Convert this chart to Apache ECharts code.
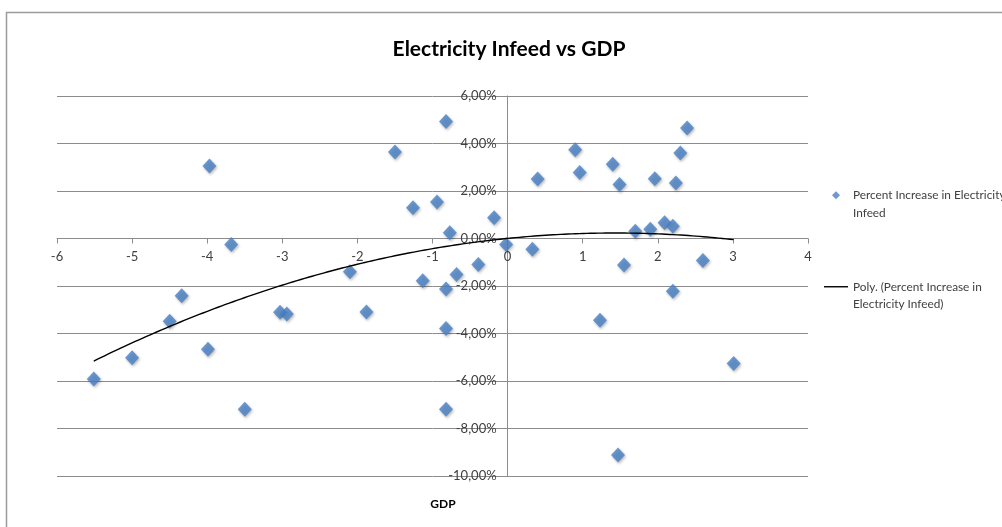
<!DOCTYPE html>
<html>
<head>
<meta charset="utf-8">
<script src="https://cdn.jsdelivr.net/npm/echarts@6/dist/echarts.min.js"></script>
<style>
  html, body { margin: 0; padding: 0; background: #fff; }
  #chart { width: 1002px; height: 527px; }
</style>
</head>
<body>
<div id="chart"></div>
<script>
// GDP growth (x) against percent increase in electricity infeed (y, in %)
const gdp = [
  -3.97, -3.68, -1.50, -0.82, -1.26, -0.94, -0.18, -0.77, -0.02,
  -2.10, -1.13, -0.68, -0.39, -0.82, -0.82, -0.82, -1.88, -3.03,
  -2.94, -4.34, -4.50, -3.99, -5.00, -5.51, -3.50,
  0.33, 0.40, 0.90, 0.96, 1.40, 1.49, 1.55, 1.70, 1.90, 1.96,
  2.09, 2.20, 2.24, 2.30, 2.39, 2.60, 2.20, 1.23, 3.01, 1.47
];
const infeed = [
  3.05, -0.25, 3.64, 4.93, 1.29, 1.54, 0.87, 0.24, -0.25,
  -1.40, -1.78, -1.52, -1.09, -2.13, -3.79, -7.19, -3.09, -3.11,
  -3.18, -2.41, -3.48, -4.66, -5.02, -5.92, -7.19,
  -0.45, 2.51, 3.74, 2.78, 3.13, 2.27, -1.12, 0.31, 0.39, 2.52,
  0.66, 0.52, 2.34, 3.60, 4.65, -0.93, -2.22, -3.44, -5.26, -9.12
];

const seriesName = 'Percent Increase in Electricity Infeed';
const trendName = 'Poly. (Percent Increase in Electricity Infeed)';
const legendLines = {
  [seriesName]: 'Percent Increase in Electricity\nInfeed',
  [trendName]: 'Poly. (Percent Increase in\nElectricity Infeed)'
};

const xRange = { min: -6, max: 4, step: 1 };
const yRange = { min: -10, max: 6, step: 2 };

const FONT = "Lato, 'Open Sans', sans-serif";

// plot box inside the 1002x527 canvas
const plot = { left: 57, right: 194, top: 96, bottom: 51 };
const plotW = 1002 - plot.left - plot.right;
const plotH = 527 - plot.top - plot.bottom;
// the axes cross at (0, 0): shift each axis from its edge onto the zero line
const xAxisShift = -plotH * (0 - yRange.min) / (yRange.max - yRange.min);
const yAxisShift = -plotW * (0 - xRange.min) / (xRange.max - xRange.min);

// second-order least-squares trend line through the points
function polyFit2(xs, ys) {
  const s = [0, 0, 0, 0, 0];
  const t = [0, 0, 0];
  for (let i = 0; i < xs.length; i++) {
    const x = xs[i], y = ys[i];
    let p = 1;
    for (let k = 0; k < 5; k++) { s[k] += p; p *= x; }
    t[0] += y; t[1] += y * x; t[2] += y * x * x;
  }
  const A = [[s[0], s[1], s[2]], [s[1], s[2], s[3]], [s[2], s[3], s[4]]];
  const det3 = m =>
    m[0][0] * (m[1][1] * m[2][2] - m[1][2] * m[2][1]) -
    m[0][1] * (m[1][0] * m[2][2] - m[1][2] * m[2][0]) +
    m[0][2] * (m[1][0] * m[2][1] - m[1][1] * m[2][0]);
  const D = det3(A);
  return [0, 1, 2].map(c => {
    const M = A.map((row, r) => row.map((v, j) => (j === c ? t[r] : v)));
    return det3(M) / D;
  }); // a + b x + c x^2
}

const [ca, cb, cc] = polyFit2(gdp, infeed);
const xLo = Math.min(...gdp), xHi = Math.max(...gdp);
const trend = [];
const nSteps = 170;
for (let i = 0; i <= nSteps; i++) {
  const x = xLo + (xHi - xLo) * i / nSteps;
  trend.push([x, ca + cb * x + cc * x * x]);
}

const points = gdp.map((x, i) => [x, infeed[i]]);

// legend icons: corner points keep the full icon box so the shapes are not stretched
const diamondIcon = 'path://M0,0L0,0M24,9L24,9M12,0.5L16,4.5L12,8.5L8,4.5Z';
const lineIcon = 'path://M0,0L0,0M24,9L24,9M0,3.8L24,3.8L24,5.2L0,5.2Z';

const chart = echarts.init(document.getElementById('chart'), null, { renderer: 'canvas' });
chart.setOption({
  animation: false,
  backgroundColor: '#fff',
  title: {
    text: 'Electricity Infeed vs GDP',
    left: 504,
    top: 34,
    textAlign: 'center',
    textStyle: { fontFamily: FONT, fontSize: 21, fontWeight: 'bold', color: '#000' }
  },
  grid: { left: plot.left, right: plot.right, top: plot.top, bottom: plot.bottom, containLabel: false },
  xAxis: {
    type: 'value',
    position: 'bottom',
    offset: xAxisShift,
    min: xRange.min, max: xRange.max, interval: xRange.step,
    axisLine: { onZero: false, lineStyle: { color: '#8c8c8c', width: 1 } },
    axisTick: { show: true, inside: false, length: 5, lineStyle: { color: '#8c8c8c' } },
    axisLabel: { fontFamily: FONT, fontSize: 13, color: '#404040', margin: 12 },
    splitLine: { show: false }
  },
  yAxis: {
    type: 'value',
    position: 'left',
    offset: yAxisShift,
    min: yRange.min, max: yRange.max, interval: yRange.step,
    axisLine: { show: true, onZero: false, lineStyle: { color: '#8c8c8c', width: 1 } },
    axisTick: { show: true, length: 5, lineStyle: { color: '#8c8c8c' } },
    axisLabel: {
      fontFamily: FONT, fontSize: 13, color: '#404040', margin: 11,
      padding: [4, 0, 0, 0],
      formatter: v => v.toFixed(2).replace('.', ',') + '%'
    },
    splitLine: { show: true, lineStyle: { color: '#8c8c8c', width: 1 } }
  },
  legend: {
    orient: 'vertical',
    left: 819,
    top: 164,
    itemWidth: 24,
    itemHeight: 9,
    itemGap: 39,
    selectedMode: false,
    textStyle: { fontFamily: FONT, fontSize: 11.8, color: '#404040', lineHeight: 17.5 },
    formatter: name => '\n' + legendLines[name],
    data: [{ name: seriesName, icon: diamondIcon }, { name: trendName, icon: lineIcon }]
  },
  series: [
    {
      name: seriesName,
      type: 'scatter',
      data: points,
      symbol: 'diamond',
      symbolSize: [14, 15],
      itemStyle: {
        color: '#4680c4',
        shadowBlur: 3,
        shadowColor: 'rgba(0,0,0,0.35)',
        shadowOffsetX: 1,
        shadowOffsetY: 1.5
      },
      z: 3
    },
    {
      name: trendName,
      type: 'line',
      data: trend,
      showSymbol: false,
      symbol: 'none',
      lineStyle: { color: '#000', width: 1.4 },
      itemStyle: { color: '#000' },
      z: 4
    }
  ],
  graphic: [
    {
      type: 'rect',
      shape: { x: 6.5, y: 12.5, width: 1100, height: 600 },
      style: { fill: 'none', stroke: '#9c9c9c', lineWidth: 1.5 },
      silent: true
    },
    {
      type: 'text',
      x: 443, y: 504,
      style: {
        text: 'GDP', fontFamily: FONT, fontSize: 12, fontWeight: 'bold',
        fill: '#000', align: 'center', verticalAlign: 'middle'
      },
      silent: true
    }
  ]
});
</script>
</body>
</html>
